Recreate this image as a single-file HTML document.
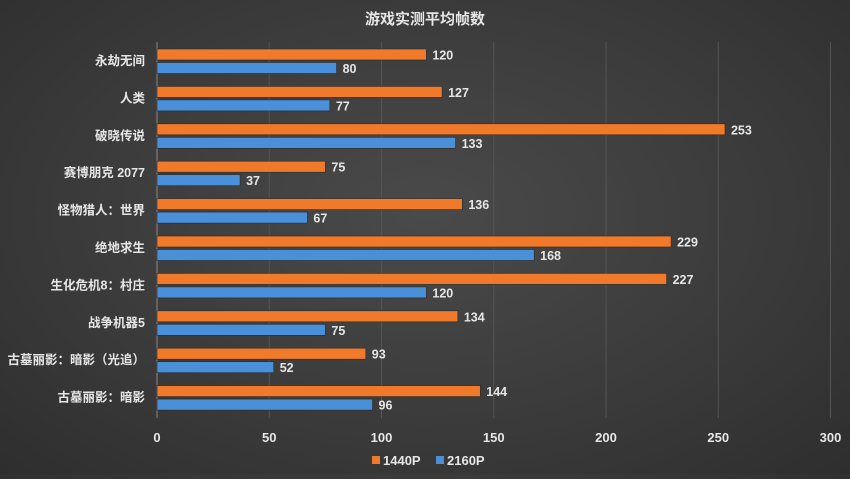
<!DOCTYPE html>
<html><head><meta charset="utf-8"><style>
body{margin:0;width:850px;height:474px;overflow:hidden;background:radial-gradient(ellipse at 50% 45%,#4a4a4a 0%,#3a3a3a 60%,#2e2e2e 100%);font-family:"Liberation Sans","Noto Sans CJK SC",sans-serif;}
svg text{font-family:"Liberation Sans","Noto Sans CJK SC",sans-serif;font-weight:bold;fill:#e6e6e6;}
</style></head><body>
<svg id="chart" width="850" height="474" xmlns="http://www.w3.org/2000/svg">
<text x="425" y="24" text-anchor="middle" font-size="15">游戏实测平均帧数</text>
<g id="grid"></g><g id="bars"></g><g id="labels"></g>
<g>
<rect x="372" y="456" width="8" height="8" fill="#f07a2a"/>
<text x="383" y="465" font-size="13">1440P</text>
<rect x="436" y="456" width="8" height="8" fill="#4a90d9"/>
<text x="447" y="465" font-size="13">2160P</text>
</g>
</svg>
<script>
const categories=["永劫无间","人类","破晓传说","赛博朋克 2077","怪物猎人：世界","绝地求生","生化危机8：村庄","战争机器5","古墓丽影：暗影（光追）","古墓丽影：暗影"];
const s1440=[120,127,253,75,136,229,227,134,93,144];
const s2160=[80,77,133,37,67,168,120,75,52,96];
const ticks=[0,50,100,150,200,250,300];
const NS="http://www.w3.org/2000/svg";
const x0=157,k=2.245,rowTop=49,rowStep=37.4,bh=11;
const X=v=>x0+v*k;
function mk(t,a,p){const e=document.createElementNS(NS,t);for(const n in a)e.setAttribute(n,a[n]);p.appendChild(e);return e;}
const g=document.getElementById('grid'),b=document.getElementById('bars'),l=document.getElementById('labels');
ticks.forEach(t=>{
 const ln=mk('line',{x1:X(t),x2:X(t),y1:42,y2:418,stroke:t==0?'#8a8a8a':'#555',"stroke-width":1},g);
 
 
 const tx=mk('text',{x:X(t),y:442,"text-anchor":"middle","font-size":13},l);tx.textContent=t;
 
 
});
categories.forEach((c,i)=>{
 const y=rowTop+i*rowStep;
 const ct=mk('text',{x:145,y:y+16,"text-anchor":"end","font-size":12.5},l);ct.textContent=c;
 
 
 [[s1440,'#f07a2a','1440p',0],[s2160,'#4a90d9','2160p',13.5]].forEach(([s,col,n,dy])=>{
  const r=mk('rect',{x:x0,y:y+dy,width:s[i]*k,height:bh,fill:col,stroke:'#2a2a2a',"stroke-width":0.6},b);
  
  
  const v=mk('text',{x:X(s[i])+6,y:y+dy+10.5,"font-size":12.5},l);v.textContent=s[i];
  
  
 });
});
</script>
</body></html>
